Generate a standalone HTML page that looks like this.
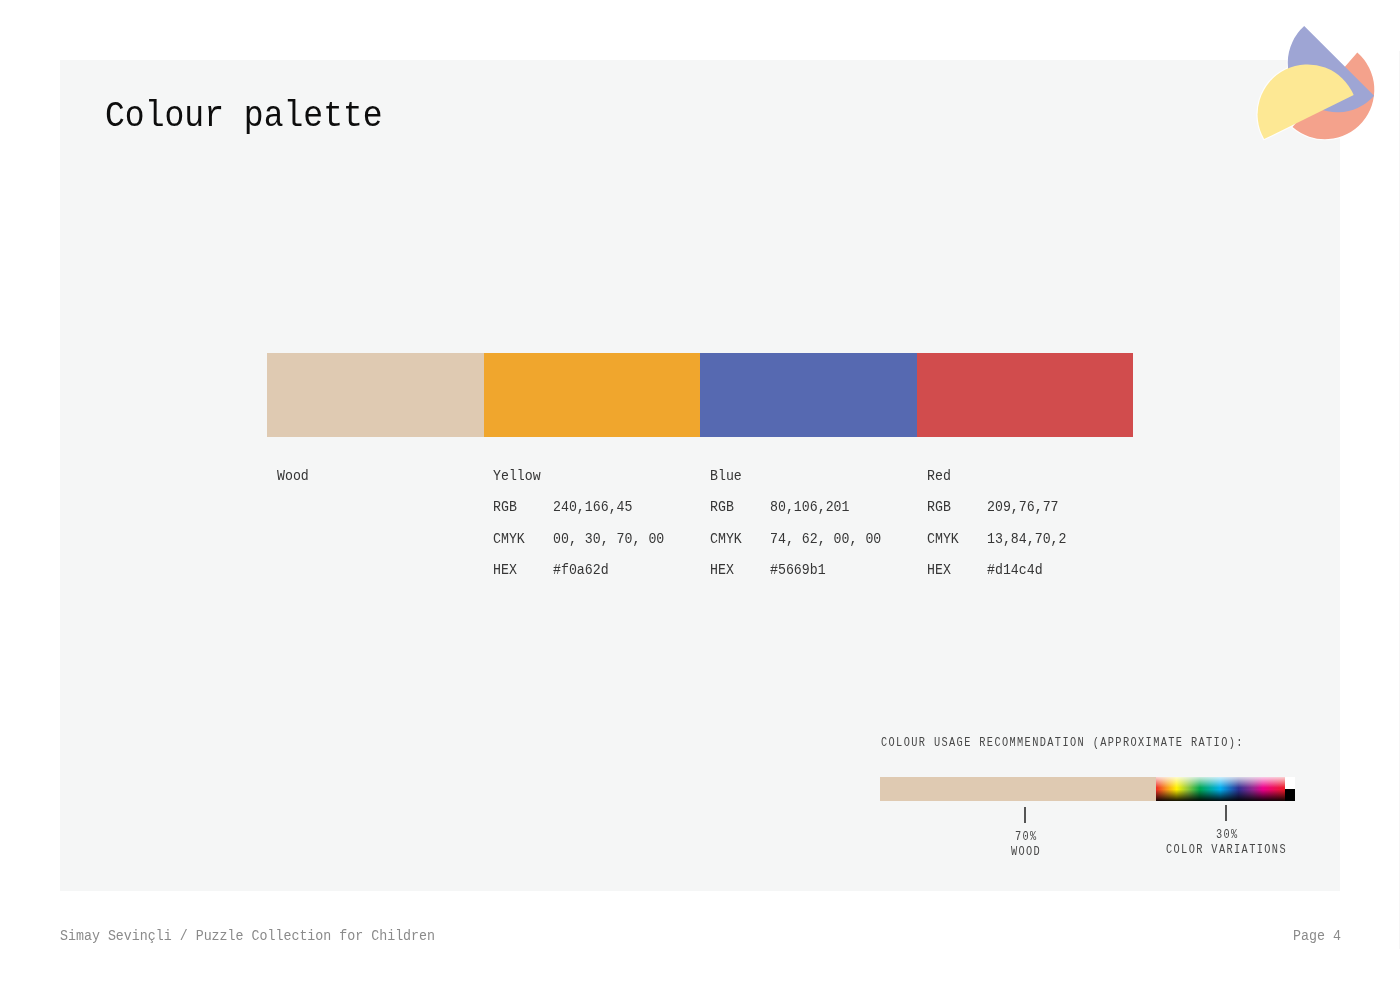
<!DOCTYPE html>
<html><head><meta charset="utf-8">
<style>
html,body{margin:0;padding:0;background:#fff;width:1400px;height:990px;overflow:hidden;position:relative}
.t{will-change:transform;-webkit-font-smoothing:antialiased;position:absolute;font-family:"Liberation Mono",monospace;white-space:pre;line-height:1;transform-origin:0 0}
.panel{position:absolute;left:60px;top:60px;width:1280px;height:831px;background:#f5f6f6}
.sw{position:absolute;top:353px;height:84px}
.lab{font-size:13.25px;color:#363636;transform:scaleY(1.11)}
</style></head><body>
<div class="panel"></div>
<div class="t" style="left:105.3px;top:97.5px;font-size:33.05px;color:#0d0d0d;transform:scaleY(1.125)">Colour palette</div>

<div class="sw" style="left:266.5px;width:217px;background:#dfcab2"></div>
<div class="sw" style="left:483.5px;width:216.5px;background:#f0a62d"></div>
<div class="sw" style="left:700px;width:216.5px;background:#5669b1"></div>
<div class="sw" style="left:916.5px;width:216.8px;background:#d14c4d"></div>

<div class="t lab" style="left:277px;top:468.5px">Wood</div>
<div class="t lab" style="left:493px;top:468.5px">Yellow</div>
<div class="t lab" style="left:493px;top:499.5px">RGB</div>
<div class="t lab" style="left:553px;top:499.5px">240,166,45</div>
<div class="t lab" style="left:493px;top:531.9px">CMYK</div>
<div class="t lab" style="left:553px;top:531.9px">00, 30, 70, 00</div>
<div class="t lab" style="left:493px;top:563.4px">HEX</div>
<div class="t lab" style="left:553px;top:563.4px">#f0a62d</div>

<div class="t lab" style="left:710px;top:468.5px">Blue</div>
<div class="t lab" style="left:710px;top:499.5px">RGB</div>
<div class="t lab" style="left:770px;top:499.5px">80,106,201</div>
<div class="t lab" style="left:710px;top:531.9px">CMYK</div>
<div class="t lab" style="left:770px;top:531.9px">74, 62, 00, 00</div>
<div class="t lab" style="left:710px;top:563.4px">HEX</div>
<div class="t lab" style="left:770px;top:563.4px">#5669b1</div>

<div class="t lab" style="left:927px;top:468.5px">Red</div>
<div class="t lab" style="left:927px;top:499.5px">RGB</div>
<div class="t lab" style="left:987px;top:499.5px">209,76,77</div>
<div class="t lab" style="left:927px;top:531.9px">CMYK</div>
<div class="t lab" style="left:987px;top:531.9px">13,84,70,2</div>
<div class="t lab" style="left:927px;top:563.4px">HEX</div>
<div class="t lab" style="left:987px;top:563.4px">#d14c4d</div>

<div class="t" style="left:881.3px;top:736.4px;font-size:10.3px;letter-spacing:1.38px;color:#474747;transform:scaleY(1.25)">COLOUR USAGE RECOMMENDATION (APPROXIMATE RATIO):</div>

<div style="position:absolute;left:880px;top:777px;width:276px;height:24px;background:#dfcab2"></div>
<div style="position:absolute;left:1156px;top:777px;width:129px;height:24px;background:linear-gradient(to bottom,rgba(255,255,255,.8) 0%,rgba(255,255,255,0) 45%,rgba(0,0,0,0) 52%,rgba(0,0,0,.92) 100%),linear-gradient(to right,#ee2a24 0%,#f7941d 8%,#fff200 16%,#8dc63f 25%,#00a651 34%,#00aeef 50%,#2e3192 64%,#92278f 75%,#ec008c 83%,#ed1c24 100%)"></div>
<div style="position:absolute;left:1285px;top:777px;width:10px;height:12px;background:#fff"></div>
<div style="position:absolute;left:1285px;top:789px;width:10px;height:12px;background:#000"></div>

<div style="position:absolute;left:1024px;top:807px;width:2px;height:16px;background:#555"></div>
<div style="position:absolute;left:1224.6px;top:805px;width:2px;height:15.5px;background:#555"></div>

<div class="t" style="left:1015px;top:830px;font-size:10.3px;letter-spacing:1.28px;color:#474747;transform:scaleY(1.25)">70%</div>
<div class="t" style="left:1011px;top:844.5px;font-size:10.3px;letter-spacing:1.28px;color:#474747;transform:scaleY(1.25)">WOOD</div>
<div class="t" style="left:1216px;top:827.5px;font-size:10.3px;letter-spacing:1.28px;color:#474747;transform:scaleY(1.25)">30%</div>
<div class="t" style="left:1166px;top:842.5px;font-size:10.3px;letter-spacing:1.38px;color:#474747;transform:scaleY(1.25)">COLOR VARIATIONS</div>

<div class="t" style="left:60px;top:928.7px;font-size:13.3px;color:#8a8a8a;transform:scaleY(1.14)">Simay Sevinçli / Puzzle Collection for Children</div>
<div class="t" style="left:1292.7px;top:928.7px;font-size:13.3px;color:#8a8a8a;transform:scaleY(1.14)">Page 4</div>

<svg style="position:absolute;left:0;top:0" width="1400" height="990" viewBox="0 0 1400 990">
  <g fill="#fff" stroke="#fff" stroke-width="2.2" opacity=".8" stroke-linejoin="round">
  <path d="M1292.5 127.1 L1357.3 52.5 A49.4 49.4 0 0 1 1292.5 127.1 Z"/>
  <path d="M1304.2 26.1 L1374.1 95.7 A49.4 49.4 0 1 1 1304.2 26.1 Z"/>
  <path d="M1353.7 95.1 L1264.1 139.1 A50 50 0 1 1 1353.7 95.1 Z"/>
  </g>
  <path d="M1292.5 127.1 L1357.3 52.5 A49.4 49.4 0 0 1 1292.5 127.1 Z" fill="#f4a28c"/>
  <path d="M1304.2 26.1 L1374.1 95.7 A49.4 49.4 0 1 1 1304.2 26.1 Z" fill="#9ea5d4"/>
  <path d="M1353.7 95.1 L1264.1 139.1 A50 50 0 1 1 1353.7 95.1 Z" fill="#fde894"/>
  <rect x="1399" y="51" width="1" height="898" fill="#f6f6f6"/>
</svg>
</body></html>
